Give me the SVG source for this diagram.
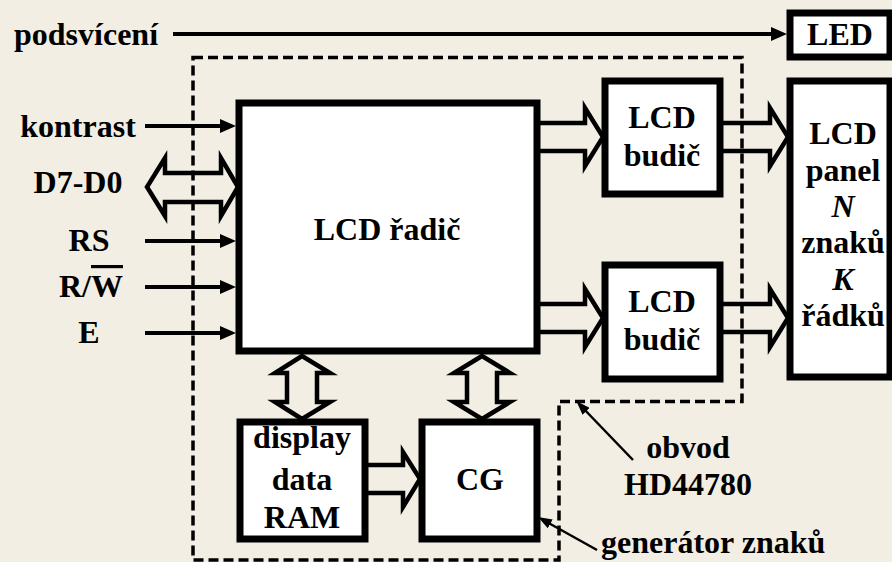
<svg xmlns="http://www.w3.org/2000/svg" width="892" height="562" viewBox="0 0 892 562">
<style>
.bg{fill:#f2eee3}
.box{fill:#fff;stroke:#000;stroke-width:7}
.hollow{fill:none;stroke:#000;stroke-width:4.5;stroke-linejoin:miter}
.sig{stroke:#000;stroke-width:4;fill:none}
.thin{stroke:#000;stroke-width:2.5;fill:none}
.dash{fill:none;stroke:#000;stroke-width:3.5;stroke-dasharray:10 5}
.c{text-anchor:middle}
</style>
<defs>
<marker id="ah" viewBox="0 0 16 14" refX="8" refY="7" markerWidth="16" markerHeight="14" markerUnits="userSpaceOnUse" orient="auto">
<path d="M0,0 L16,7 L0,14 Z" fill="#000"/>
</marker>
<marker id="sa" viewBox="0 0 14 10" refX="6" refY="5" markerWidth="14" markerHeight="10" markerUnits="userSpaceOnUse" orient="auto">
<path d="M0,0 L14,5 L0,10 Z" fill="#000"/>
</marker>
</defs>
<rect class="bg" x="0" y="0" width="892" height="562"/>

<g id="hd44780">
<path class="dash" d="M193,57.5 H742 V401.5 H559 V560 H193 Z"/>
</g>

<g font-family="'Liberation Serif', 'Times New Roman', serif" font-weight="bold" font-size="32" fill="#000">
<g id="radic">
<rect class="box" x="239" y="103" width="298" height="248"/>
<text class="c" x="387" y="240">LCD řadič</text>
</g>
<g id="budic1">
<rect class="box" x="605" y="81" width="115" height="113"/>
<text class="c" x="662" y="128">LCD</text>
<text class="c" x="662" y="166">budič</text>
</g>
<g id="budic2">
<rect class="box" x="605" y="265" width="115" height="114"/>
<text class="c" x="662" y="312">LCD</text>
<text class="c" x="662" y="350">budič</text>
</g>
<g id="led">
<rect class="box" x="790" y="13" width="100" height="44"/>
<text class="c" x="840" y="45">LED</text>
</g>
<g id="panel">
<rect class="box" x="790" y="81" width="100" height="296"/>
<text class="c" x="843" y="144">LCD</text>
<text class="c" x="843" y="181">panel</text>
<text class="c" x="843" y="217" font-style="italic">N</text>
<text class="c" x="843" y="253">znaků</text>
<text class="c" x="843" y="290" font-style="italic">K</text>
<text class="c" x="843" y="326">řádků</text>
</g>
<g id="ram">
<rect class="box" x="240" y="422" width="125" height="117"/>
<text class="c" x="302" y="448">display</text>
<text class="c" x="302" y="490">data</text>
<text class="c" x="302" y="528">RAM</text>
</g>
<g id="cg">
<rect class="box" x="422" y="422" width="115" height="117"/>
<text class="c" x="480" y="490">CG</text>
</g>

<g id="labels">
<text x="14" y="45">podsvícení</text>
<text class="c" x="78" y="137">kontrast</text>
<text class="c" x="78" y="193">D7-D0</text>
<text class="c" x="89" y="251">RS</text>
<text class="c" x="91" y="297">R/<tspan style="text-decoration:overline">W</tspan></text>
<text class="c" x="89" y="343">E</text>
<text class="c" x="688" y="458">obvod</text>
<text class="c" x="688" y="495">HD44780</text>
<text x="601" y="553">generátor znaků</text>
</g>
</g>

<g id="connectors">
<line class="sig" x1="173" y1="34" x2="779" y2="34" marker-end="url(#ah)"/>
<line class="sig" x1="145" y1="126" x2="228" y2="126" marker-end="url(#ah)"/>
<line class="sig" x1="145" y1="241" x2="228" y2="241" marker-end="url(#ah)"/>
<line class="sig" x1="145" y1="287" x2="228" y2="287" marker-end="url(#ah)"/>
<line class="sig" x1="145" y1="333" x2="228" y2="333" marker-end="url(#ah)"/>
<path class="hollow" d="M165,173 H221 V158 L238,187 L221,216 V202 H165 V216 L147,187 L165,158 Z"/>
<path class="hollow" d="M538,123 H585 V108 L603,137 L585,166 V151 H538"/>
<path class="hollow" d="M723,123 H770 V108 L788,137 L770,166 V151 H723"/>
<path class="hollow" d="M538,304 H585 V289 L603,318 L585,347 V332 H538"/>
<path class="hollow" d="M723,304 H770 V289 L788,318 L770,347 V332 H723"/>
<path class="hollow" d="M302,356 L330,373 H317 V402 H330 L302,419 L275,402 H287 V373 H275 Z"/>
<path class="hollow" d="M482,356 L510,373 H497 V402 H510 L482,419 L454,402 H467 V373 H454 Z"/>
<path class="hollow" d="M368,465 H403 V452 L420,479 L403,507 V493 H368"/>
<line class="thin" x1="633" y1="460" x2="582" y2="407" marker-end="url(#sa)"/>
<line class="thin" x1="597" y1="550" x2="545" y2="521" marker-end="url(#sa)"/>
</g>
</svg>
